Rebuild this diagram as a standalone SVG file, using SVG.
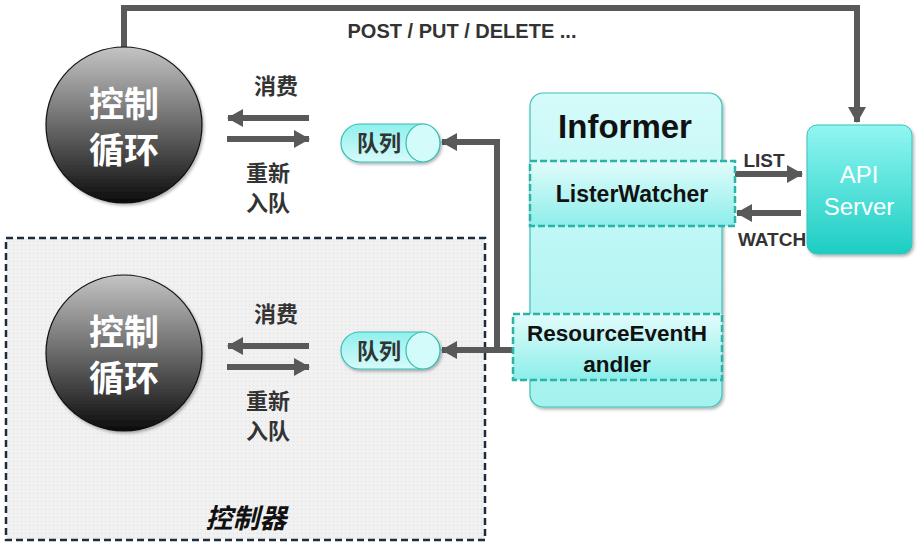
<svg xmlns="http://www.w3.org/2000/svg" width="917" height="557" viewBox="0 0 917 557">
<style>
.cn{font-family:"Noto Sans CJK SC","Liberation Sans",sans-serif;font-weight:bold;text-anchor:middle}
.en{font-family:"Liberation Sans","Noto Sans CJK SC",sans-serif;font-weight:bold;text-anchor:middle}
.lbl{fill:#333;font-size:22px}
.small{font-size:19px}
.post{font-size:20px}
.conn{fill:none;stroke:#595959;stroke-width:6}
.circ{fill:url(#gCirc);stroke:#111;stroke-width:1.2}
.ctext{fill:#fff;font-size:35px}
.pill{fill:url(#gPill);stroke:#36bdb3;stroke-width:1.2}
.dashbox{fill:url(#gInner);stroke:#2bb3a8;stroke-width:2.5;stroke-dasharray:7 3}
</style>
<defs>
<linearGradient id="gCirc" x1="0" y1="0" x2="0" y2="1">
<stop offset="0" stop-color="#c4c4c4"/><stop offset="0.5" stop-color="#6a6a6a"/><stop offset="1" stop-color="#0c0c0c"/>
</linearGradient>
<linearGradient id="gPill" x1="0" y1="0" x2="0" y2="1">
<stop offset="0" stop-color="#8ff0ec"/><stop offset="1" stop-color="#d6fbfa"/>
</linearGradient>
<linearGradient id="gInformer" x1="0" y1="0" x2="0" y2="1">
<stop offset="0" stop-color="#d4fbfa"/><stop offset="1" stop-color="#a4f2ef"/>
</linearGradient>
<linearGradient id="gInner" x1="0" y1="0" x2="0" y2="1">
<stop offset="0" stop-color="#e2fcfb"/><stop offset="1" stop-color="#8ceeea"/>
</linearGradient>
<linearGradient id="gApi" x1="0" y1="0" x2="0" y2="1">
<stop offset="0" stop-color="#92f6f3"/><stop offset="1" stop-color="#1ccdc3"/>
</linearGradient>
<pattern id="dots" width="4" height="4" patternUnits="userSpaceOnUse">
<rect width="4" height="4" fill="#f1f1f1"/><rect x="1" y="1" width="1" height="1" fill="#dcdcdc"/>
</pattern>
<marker id="ah" markerUnits="userSpaceOnUse" markerWidth="16" markerHeight="18" refX="15" refY="9" orient="auto">
<path d="M0,0 L16,9 L0,18 z" fill="#595959"/>
</marker>
<filter id="sh" x="-10%" y="-10%" width="130%" height="130%">
<feDropShadow dx="1.5" dy="2" stdDeviation="1.5" flood-color="#000" flood-opacity="0.3"/>
</filter>
</defs>
<rect width="917" height="557" fill="#fff"/>

<g id="controller-box">
<rect x="6" y="238" width="479" height="302" fill="url(#dots)" stroke="#1c2d3e" stroke-width="2.5" stroke-dasharray="7 4"/>
<text class="cn" x="246" y="528" font-size="27" font-style="italic" fill="#111">控制器</text>
</g>

<g id="connectors">
<path class="conn" d="M124,48 V8 H857 V122" stroke-width="5" marker-end="url(#ah)"/>
<path class="conn" d="M309,118 H228" marker-end="url(#ah)"/>
<path class="conn" d="M227,139 H309" marker-end="url(#ah)"/>
<path class="conn" d="M309,346 H228" marker-end="url(#ah)"/>
<path class="conn" d="M227,367 H309" marker-end="url(#ah)"/>
<path class="conn" d="M514,350 H442" marker-end="url(#ah)"/>
<path class="conn" d="M497,350 V142 H442" marker-end="url(#ah)"/>
<path class="conn" d="M626,232 V306" marker-end="url(#ah)"/>
<path class="conn" d="M735,174 H802" marker-end="url(#ah)"/>
<path class="conn" d="M801,213 H737" marker-end="url(#ah)"/>
<text class="en lbl post" x="462" y="38">POST / PUT / DELETE ...</text>
<text class="cn lbl" x="276" y="94">消费</text>
<text class="cn lbl" x="268" y="181">重新</text>
<text class="cn lbl" x="268" y="211">入队</text>
<text class="cn lbl" x="276" y="322">消费</text>
<text class="cn lbl" x="268" y="409">重新</text>
<text class="cn lbl" x="268" y="439">入队</text>
<text class="cn lbl" x="662" y="279">事件</text>
<text class="en lbl small" x="764" y="167">LIST</text>
<text class="en lbl small" x="772" y="246">WATCH</text>
</g>

<g id="loop-top">
<circle class="circ" cx="124" cy="125" r="78" filter="url(#sh)"/>
<text class="cn ctext" x="124" y="117">控制</text>
<text class="cn ctext" x="124" y="163">循环</text>
</g>

<g id="loop-bottom">
<circle class="circ" cx="124" cy="353" r="78" filter="url(#sh)"/>
<text class="cn ctext" x="124" y="345">控制</text>
<text class="cn ctext" x="124" y="391">循环</text>
</g>

<g id="queue-top">
<rect class="pill" x="341" y="124" width="99" height="38" rx="19" filter="url(#sh)"/>
<ellipse cx="423" cy="143" rx="17" ry="19" fill="#d2fbfa" stroke="#36bdb3" stroke-width="1.2"/>
<text class="cn" x="379" y="151" font-size="22" fill="#333">队列</text>
</g>

<g id="queue-bottom">
<rect class="pill" x="341" y="332" width="99" height="37" rx="18.5" filter="url(#sh)"/>
<ellipse cx="423" cy="350.5" rx="17" ry="18.5" fill="#d2fbfa" stroke="#36bdb3" stroke-width="1.2"/>
<text class="cn" x="379" y="359" font-size="22" fill="#333">队列</text>
</g>

<g id="informer">
<rect x="530" y="93" width="192" height="314" rx="13" fill="url(#gInformer)" stroke="#3cc0b8" stroke-width="1.2" filter="url(#sh)"/>
<text class="en" x="625" y="138" font-size="33" fill="#111">Informer</text>
</g>

<g id="lister-watcher">
<rect class="dashbox" x="530" y="161" width="205" height="65"/>
<text class="en" x="632" y="202" font-size="23" fill="#111">ListerWatcher</text>
</g>

<g id="resource-event-handler">
<rect class="dashbox" x="513" y="314" width="209" height="66"/>
<text class="en" x="617" y="341" font-size="22.5" fill="#111">ResourceEventH</text>
<text class="en" x="617" y="372" font-size="22.5" fill="#111">andler</text>
</g>

<g id="api-server">
<rect x="807" y="125" width="105" height="129" rx="10" fill="url(#gApi)" stroke="#3cc0b8" stroke-width="1" filter="url(#sh)"/>
<text class="en" x="859" y="183" font-size="24" fill="#fff" style="font-weight:normal">API</text>
<text class="en" x="859" y="215" font-size="24" fill="#fff" style="font-weight:normal">Server</text>
</g>
</svg>
